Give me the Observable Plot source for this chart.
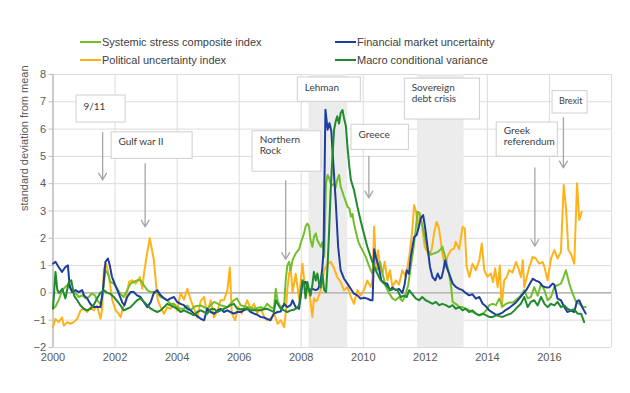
<!DOCTYPE html>
<html><head><meta charset="utf-8">
<script src="https://cdn.jsdelivr.net/npm/d3@7"></script>
<script src="https://cdn.jsdelivr.net/npm/@observablehq/plot@0.6"></script>
<style>
body{margin:0;background:#fff}
#wrap{position:relative;width:630px;height:393px;overflow:hidden}
.leg{position:absolute;font:11px "Liberation Sans",Arial,sans-serif;color:#404040;display:flex;align-items:center;white-space:nowrap;height:14px}
.sw{display:inline-block;width:21px;height:2px;margin-right:1px}
</style></head>
<body><div id="wrap"></div>
<script>
// ---- data (decimal year, standard deviations from mean) ----
const systemicStress = [
[2000.00,-0.58],[2000.08,-0.5],[2000.18,-0.27],[2000.30,0.1],[2000.40,0.22],[2000.51,0.34],[2000.62,0.05],[2000.72,0.0],[2000.83,-0.15],[2000.94,-0.09],
[2001.05,-0.2],[2001.15,-0.15],[2001.25,-0.03],[2001.35,-0.09],[2001.42,-0.27],[2001.52,-0.4],[2001.58,-0.2],[2001.69,0.83],[2001.77,0.7],[2001.85,0.4],[2001.96,0.34],
[2002.07,0.15],[2002.17,-0.03],[2002.28,-0.15],[2002.39,0.1],[2002.50,0.34],[2002.60,0.4],[2002.71,0.46],[2002.82,0.46],[2002.93,0.28],
[2003.04,0.1],[2003.15,0.03],[2003.25,0.03],[2003.36,0.0],[2003.47,-0.15],[2003.58,-0.2],[2003.68,-0.27],[2003.79,-0.4],[2003.90,-0.4],
[2004.00,-0.52],[2004.11,-0.58],[2004.22,-0.58],[2004.33,-0.46],[2004.44,-0.64],[2004.55,-0.5],[2004.76,-0.46],[2004.97,-0.58],
[2005.19,-0.33],[2005.40,-0.45],[2005.62,-0.52],[2005.83,-0.27],[2005.93,-0.2],[2006.05,-0.45],[2006.26,-0.52],[2006.48,-0.58],[2006.69,-0.52],[2006.80,-0.58],[2006.90,-0.4],
[2007.01,-0.52],[2007.12,-0.58],[2007.18,0.15],[2007.24,-0.3],[2007.34,-0.52],[2007.45,-0.46],[2007.50,0.46],[2007.55,1.0],[2007.61,1.14],[2007.66,0.83],[2007.72,1.2],[2007.82,1.44],[2007.93,1.6],[2007.98,1.81],
[2008.09,2.18],[2008.14,2.42],[2008.20,2.54],[2008.25,2.45],[2008.30,1.93],[2008.36,1.69],[2008.41,2.05],[2008.47,2.18],[2008.52,1.93],[2008.58,1.8],[2008.63,1.69],[2008.68,1.85],[2008.74,1.32],[2008.80,4.01],[2008.85,4.32],[2008.90,4.2],[2008.95,4.01],
[2009.00,3.95],[2009.06,4.0],[2009.11,3.85],[2009.16,4.14],[2009.22,4.32],[2009.27,3.9],[2009.38,3.52],[2009.49,3.16],[2009.55,3.1],[2009.60,2.79],[2009.65,2.9],[2009.70,2.54],[2009.80,2.05],[2009.86,1.81],[2009.97,1.57],
[2010.08,1.32],[2010.18,1.0],[2010.29,0.71],[2010.37,0.95],[2010.45,0.85],[2010.54,1.14],[2010.62,0.71],[2010.73,0.22],[2010.83,0.0],[2010.94,-0.2],
[2011.04,-0.27],[2011.15,-0.15],[2011.26,-0.3],[2011.35,-0.1],[2011.45,0.3],[2011.53,0.95],[2011.64,1.8],[2011.75,2.97],[2011.80,2.95],[2011.88,2.6],[2011.98,2.05],
[2012.07,1.57],[2012.18,1.4],[2012.28,1.45],[2012.40,1.5],[2012.50,1.6],[2012.55,1.69],[2012.64,1.32],[2012.74,0.83],[2012.82,0.34],[2012.88,-0.33],[2012.98,-0.4],
[2013.10,-0.52],[2013.20,-0.52],[2013.30,-0.58],[2013.41,-0.64],[2013.52,-0.7],[2013.63,-0.76],[2013.74,-0.82],[2013.85,-0.78],[2013.96,-0.64],
[2014.06,-0.45],[2014.17,-0.4],[2014.28,-0.45],[2014.38,-0.21],[2014.49,-0.5],[2014.60,-0.4],[2014.71,-0.35],[2014.82,-0.35],[2014.97,-0.21],
[2015.08,-0.09],[2015.19,0.1],[2015.30,-0.2],[2015.40,-0.15],[2015.51,0.21],[2015.62,-0.1],[2015.73,0.34],[2015.84,0.1],[2015.94,-0.27],
[2016.05,-0.15],[2016.16,0.22],[2016.26,0.28],[2016.37,0.34],[2016.46,0.6],[2016.53,0.83],[2016.64,0.34],[2016.75,-0.03],[2016.86,-0.34],[2016.96,-0.4],
[2017.07,-0.52],[2017.17,-0.52]
];
const financialUncertainty = [
[2000.00,1.07],[2000.08,1.14],[2000.18,0.95],[2000.29,0.77],[2000.40,0.95],[2000.48,1.01],[2000.54,0.22],[2000.62,0.03],[2000.73,0.1],[2000.83,0.03],[2000.94,0.1],
[2001.00,-0.09],[2001.10,-0.2],[2001.20,-0.4],[2001.31,-0.52],[2001.42,-0.52],[2001.53,-0.52],[2001.61,0.1],[2001.69,1.14],[2001.77,1.26],[2001.83,1.01],[2001.90,0.59],
[2002.01,0.28],[2002.12,-0.03],[2002.23,-0.34],[2002.30,-0.46],[2002.39,-0.15],[2002.50,0.03],[2002.60,0.03],[2002.71,-0.09],[2002.82,-0.15],[2002.93,-0.34],
[2003.04,-0.52],[2003.15,-0.34],[2003.25,0.0],[2003.36,0.1],[2003.47,-0.09],[2003.58,-0.2],[2003.68,-0.27],[2003.79,-0.2],[2003.90,-0.15],
[2004.00,-0.33],[2004.11,-0.4],[2004.22,-0.45],[2004.33,-0.58],[2004.44,-0.64],[2004.55,-0.77],[2004.65,-0.85],[2004.76,-0.95],[2004.87,-1.0],[2004.97,-0.58],
[2005.08,-0.7],[2005.19,-0.76],[2005.30,-0.65],[2005.40,-0.58],[2005.51,-0.7],[2005.62,-0.64],[2005.72,-0.7],[2005.83,-0.76],[2005.94,-0.7],
[2006.05,-0.7],[2006.15,-0.64],[2006.26,-0.58],[2006.37,-0.7],[2006.48,-0.76],[2006.58,-0.8],[2006.69,-0.88],[2006.80,-0.9],[2006.90,-0.95],
[2007.01,-1.0],[2007.12,-0.76],[2007.24,-0.7],[2007.34,-0.68],[2007.45,-0.4],[2007.55,-0.52],[2007.66,-0.45],[2007.72,-0.27],[2007.82,-0.52],[2007.93,-0.58],
[2008.04,0.34],[2008.14,0.4],[2008.25,0.1],[2008.36,0.15],[2008.47,0.1],[2008.55,0.15],[2008.63,0.46],[2008.68,0.9],[2008.72,1.57],[2008.78,6.71],[2008.85,5.98],[2008.91,6.22],[2008.97,5.92],
[2009.04,4.63],[2009.11,3.4],[2009.19,1.69],[2009.27,0.83],[2009.38,0.52],[2009.49,0.34],[2009.59,0.16],[2009.70,-0.03],[2009.81,-0.09],[2009.91,-0.21],
[2010.02,-0.18],[2010.13,-0.21],[2010.24,-0.27],[2010.30,-0.27],[2010.35,1.6],[2010.41,1.3],[2010.50,0.95],[2010.58,0.46],[2010.68,0.35],[2010.77,0.34],[2010.86,0.1],[2010.94,0.2],
[2011.05,0.1],[2011.15,0.15],[2011.26,0.0],[2011.33,0.3],[2011.40,0.83],[2011.47,0.7],[2011.53,1.32],[2011.64,2.05],[2011.72,2.12],[2011.79,2.42],[2011.85,2.73],[2011.93,2.85],[2011.99,2.42],
[2012.07,1.69],[2012.15,0.95],[2012.23,0.58],[2012.32,0.46],[2012.40,0.71],[2012.47,0.52],[2012.52,0.55],[2012.58,0.83],[2012.64,1.2],[2012.70,0.9],[2012.77,0.7],[2012.88,0.35],[2012.98,0.22],
[2013.09,0.15],[2013.20,0.1],[2013.30,0.0],[2013.41,-0.09],[2013.52,-0.05],[2013.63,-0.21],[2013.74,-0.15],[2013.85,-0.4],[2013.96,-0.5],
[2014.06,-0.64],[2014.17,-0.72],[2014.28,-0.8],[2014.38,-0.78],[2014.49,-0.72],[2014.60,-0.62],[2014.70,-0.55],[2014.81,-0.45],[2014.92,-0.35],
[2015.03,-0.2],[2015.14,-0.05],[2015.25,0.1],[2015.35,0.3],[2015.46,0.52],[2015.56,0.45],[2015.67,0.4],[2015.78,0.25],[2015.89,0.2],
[2016.00,0.21],[2016.10,0.34],[2016.16,0.3],[2016.26,-0.21],[2016.37,-0.27],[2016.48,-0.52],[2016.58,-0.7],[2016.69,-0.65],[2016.80,-0.7],[2016.89,-0.3],[2016.96,-0.27],
[2017.07,-0.55],[2017.17,-0.76]
];
const politicalUncertainty = [
[2000.00,-1.25],[2000.08,-0.95],[2000.18,-1.07],[2000.29,-0.9],[2000.35,-1.2],[2000.46,-1.07],[2000.56,-1.13],[2000.67,-1.07],[2000.78,-0.95],[2000.89,-0.64],[2000.99,-0.58],
[2001.10,-0.7],[2001.21,-0.52],[2001.31,-0.64],[2001.42,-0.46],[2001.53,-0.95],[2001.58,-0.64],[2001.64,0.89],[2001.71,1.07],[2001.80,0.64],[2001.91,-0.27],
[2002.02,-0.64],[2002.12,-0.77],[2002.18,-0.89],[2002.26,-0.52],[2002.34,-0.33],[2002.45,0.4],[2002.55,0.46],[2002.66,0.34],[2002.74,0.46],[2002.80,0.58],[2002.88,0.15],[2002.93,0.7],
[2003.04,1.5],[2003.12,2.0],[2003.25,1.2],[2003.34,0.1],[2003.38,-0.27],[2003.47,-0.52],[2003.58,-0.77],[2003.68,-0.52],[2003.79,-0.58],[2003.90,-0.4],
[2004.00,-0.64],[2004.11,0.0],[2004.22,-0.25],[2004.33,0.15],[2004.44,-0.27],[2004.54,-0.55],[2004.65,-0.9],[2004.76,-0.3],[2004.87,-0.15],[2004.97,-0.76],
[2005.08,-0.27],[2005.19,-0.9],[2005.30,-0.64],[2005.40,-0.27],[2005.51,-0.27],[2005.62,0.1],[2005.70,0.93],[2005.76,-0.76],[2005.87,-1.0],[2005.97,-0.52],
[2006.08,-0.76],[2006.26,-0.27],[2006.37,-0.58],[2006.48,-0.4],[2006.58,-0.76],[2006.69,-0.52],[2006.80,-0.88],[2006.90,-1.0],
[2007.01,-0.95],[2007.12,-0.76],[2007.24,-1.13],[2007.34,-1.0],[2007.45,-1.25],[2007.50,-0.76],[2007.55,0.1],[2007.61,0.7],[2007.66,0.95],[2007.72,0.0],[2007.82,0.7],[2007.93,-0.2],
[2008.04,1.07],[2008.14,0.0],[2008.25,0.1],[2008.36,-0.88],[2008.41,-0.2],[2008.47,-0.3],[2008.52,-0.27],[2008.63,0.1],[2008.74,0.83],[2008.85,1.07],[2008.95,1.14],
[2009.06,0.9],[2009.16,0.58],[2009.27,0.4],[2009.38,0.1],[2009.49,0.22],[2009.60,-0.15],[2009.70,-0.4],[2009.81,0.1],[2009.91,-0.1],
[2010.02,0.1],[2010.13,0.45],[2010.24,0.22],[2010.30,0.5],[2010.35,2.42],[2010.41,0.95],[2010.48,1.56],[2010.55,0.83],[2010.62,0.71],[2010.69,1.14],[2010.78,0.46],[2010.86,0.83],[2010.94,0.22],
[2011.05,0.46],[2011.15,0.3],[2011.26,0.83],[2011.37,0.6],[2011.48,1.32],[2011.57,2.18],[2011.64,3.22],[2011.70,2.97],[2011.77,2.3],[2011.82,2.91],[2011.90,2.42],[2011.98,1.69],
[2012.12,1.38],[2012.20,1.57],[2012.29,2.24],[2012.36,2.6],[2012.44,2.36],[2012.55,1.44],[2012.64,0.95],[2012.71,1.32],[2012.82,1.57],[2012.93,1.63],[2012.98,1.87],
[2013.09,1.6],[2013.20,2.42],[2013.27,2.36],[2013.33,0.95],[2013.42,0.58],[2013.52,1.07],[2013.63,0.83],[2013.74,1.2],[2013.82,1.81],[2013.90,0.83],
[2014.00,0.6],[2014.11,0.71],[2014.18,0.4],[2014.25,0.9],[2014.33,0.21],[2014.40,1.0],[2014.46,-0.52],[2014.54,0.46],[2014.62,0.58],[2014.70,0.83],[2014.81,0.75],[2014.92,1.13],
[2015.00,0.9],[2015.08,0.58],[2015.14,1.2],[2015.19,0.21],[2015.27,0.58],[2015.35,0.95],[2015.46,1.32],[2015.56,1.26],[2015.67,1.07],[2015.78,1.13],[2015.84,0.95],[2015.94,0.46],
[2016.05,1.26],[2016.16,1.57],[2016.26,1.26],[2016.37,1.5],[2016.46,3.95],[2016.53,3.16],[2016.61,1.57],[2016.69,1.44],[2016.80,1.07],[2016.89,4.02],[2016.96,2.67],[2017.04,2.97]
];
const macroVariance = [
[2000.00,-0.58],[2000.08,0.77],[2000.14,0.1],[2000.20,0.0],[2000.30,0.15],[2000.40,-0.2],[2000.51,0.4],[2000.59,0.46],[2000.68,-0.1],[2000.78,-0.27],[2000.88,-0.45],[2000.99,-0.58],
[2001.10,-0.64],[2001.21,-0.58],[2001.31,-0.45],[2001.42,-0.2],[2001.53,0.0],[2001.64,0.1],[2001.75,0.0],[2001.85,-0.03],[2001.96,-0.15],
[2002.07,-0.3],[2002.17,-0.45],[2002.28,-0.64],[2002.39,-0.58],[2002.50,-0.52],[2002.60,-0.4],[2002.71,-0.27],[2002.82,-0.2],[2002.93,-0.33],
[2003.04,-0.45],[2003.15,-0.58],[2003.25,-0.64],[2003.36,-0.7],[2003.47,-0.64],[2003.58,-0.52],[2003.68,-0.4],[2003.79,-0.46],[2003.90,-0.52],
[2004.00,-0.58],[2004.11,-0.7],[2004.22,-0.64],[2004.33,-0.7],[2004.44,-0.76],[2004.54,-0.82],[2004.65,-0.7],[2004.76,-0.64],[2004.87,-0.7],[2004.97,-0.76],
[2005.08,-0.6],[2005.19,-0.58],[2005.30,-0.7],[2005.40,-0.64],[2005.51,-0.58],[2005.62,-0.52],[2005.72,-0.45],[2005.83,-0.4],[2005.94,-0.58],
[2006.05,-0.6],[2006.15,-0.58],[2006.26,-0.58],[2006.37,-0.64],[2006.48,-0.64],[2006.58,-0.64],[2006.69,-0.64],[2006.80,-0.6],[2006.90,-0.58],
[2007.01,-0.64],[2007.12,-0.7],[2007.18,-0.27],[2007.24,-0.4],[2007.34,-0.58],[2007.45,-0.64],[2007.55,-0.7],[2007.66,-0.64],[2007.76,-0.62],[2007.87,-0.55],[2007.93,-0.45],[2007.98,0.0],
[2008.04,0.46],[2008.09,0.34],[2008.14,-0.2],[2008.20,0.4],[2008.25,0.1],[2008.30,-0.1],[2008.36,0.3],[2008.41,0.77],[2008.47,0.45],[2008.52,0.71],[2008.58,0.3],[2008.63,0.2],[2008.68,0.71],[2008.74,0.1],[2008.80,0.03],[2008.85,1.0],[2008.90,2.3],[2008.95,3.77],
[2009.00,4.87],[2009.06,5.98],[2009.11,6.28],[2009.16,6.47],[2009.22,6.2],[2009.27,6.59],[2009.33,6.7],[2009.38,6.4],[2009.44,6.1],[2009.49,5.36],[2009.55,4.63],[2009.60,4.14],[2009.70,3.77],[2009.81,3.16],[2009.91,2.67],
[2010.02,2.18],[2010.13,1.69],[2010.24,1.32],[2010.35,0.95],[2010.45,0.71],[2010.56,0.46],[2010.67,0.34],[2010.78,0.22],[2010.89,0.1],[2010.99,0.15],
[2011.10,0.1],[2011.21,-0.15],[2011.31,-0.1],[2011.40,-0.15],[2011.48,0.1],[2011.58,-0.05],[2011.69,-0.2],[2011.80,-0.27],[2011.90,-0.15],
[2012.01,-0.27],[2012.12,-0.33],[2012.23,-0.4],[2012.34,-0.33],[2012.45,-0.45],[2012.55,-0.4],[2012.66,-0.45],[2012.77,-0.52],[2012.88,-0.45],[2012.98,-0.58],
[2013.09,-0.52],[2013.20,-0.64],[2013.30,-0.58],[2013.41,-0.7],[2013.52,-0.64],[2013.63,-0.76],[2013.74,-0.82],[2013.85,-0.76],[2013.96,-0.82],
[2014.06,-0.88],[2014.17,-0.88],[2014.28,-0.82],[2014.38,-0.85],[2014.49,-0.88],[2014.60,-0.82],[2014.76,-0.76],[2014.87,-0.64],[2014.97,-0.52],
[2015.08,-0.4],[2015.19,-0.15],[2015.30,-0.52],[2015.40,-0.33],[2015.51,-0.27],[2015.62,-0.46],[2015.73,-0.15],[2015.84,-0.4],[2015.94,-0.52],
[2016.05,-0.4],[2016.16,-0.46],[2016.26,-0.33],[2016.37,-0.52],[2016.48,-0.46],[2016.58,-0.58],[2016.69,-0.64],[2016.80,-0.6],[2016.91,-0.76],
[2017.02,-0.76],[2017.12,-1.07]
];
const seriesNames = ["Systemic stress composite index","Financial market uncertainty","Political uncertainty index","Macro conditional variance"];
const seriesColors = ["#72bf2c","#1f3d9c","#ffb21a","#218a2e"];
const xTicks = [2000,2002,2004,2006,2008,2010,2012,2014,2016];
const xGrid = [2000,2002,2004,2006,2008,2010,2012,2014,2016,2018];
const yTicks = [-2,-1,0,1,2,3,4,5,6,7,8];
const crisisBands = [
  {start: 2008.25, end: 2009.5},
  {start: 2011.75, end: 2013.25}
];
const eventBoxes = [
  {label:"9/11", x1:2000.76, x2:2002.34, y1:6.24, y2:7.23, tx:2000.98, ty:7.0, size:10},
  {label:"Gulf war II", x1:2001.89, x2:2004.5, y1:4.91, y2:5.88, tx:2002.11, ty:5.72, size:10},
  {label:"Northern\nRock", x1:2006.43, x2:2008.65, y1:4.44, y2:5.92, tx:2006.66, ty:5.79, size:10},
  {label:"Lehman", x1:2007.89, x2:2009.92, y1:7.0, y2:7.89, tx:2008.11, ty:7.7, size:10},
  {label:"Greece", x1:2009.62, x2:2011.47, y1:5.24, y2:6.16, tx:2009.85, ty:5.98, size:10},
  {label:"Sovereign\ndebt crisis", x1:2011.34, x2:2013.76, y1:6.35, y2:7.85, tx:2011.56, ty:7.7, size:10},
  {label:"Greek\nreferendum", x1:2014.3, x2:2016.27, y1:4.99, y2:6.24, tx:2014.53, ty:6.13, size:10},
  {label:"Brexit", x1:2016.1, x2:2017.23, y1:6.57, y2:7.39, tx:2016.31, ty:7.2, size:9}
];
const eventArrows = [
  {x:2001.6, y1:5.87, y2:4.14},
  {x:2002.97, y1:4.73, y2:2.42},
  {x:2007.5, y1:4.11, y2:1.23},
  {x:2010.18, y1:5.0, y2:3.48},
  {x:2015.53, y1:4.58, y2:1.71},
  {x:2016.45, y1:6.42, y2:4.58}
];
const yLabel = "standard deviation from mean";

const drawOrder = [
  [politicalUncertainty, 2],
  [systemicStress, 0],
  [financialUncertainty, 1],
  [macroVariance, 3]
];

const chart = Plot.plot({
  width: 630, height: 393,
  marginLeft: 52.5, marginRight: 19, marginTop: 74, marginBottom: 46,
  style: {fontFamily: "'Liberation Sans', Arial, sans-serif", fontSize: "11px", color: "#595959", background: "#fff"},
  x: {domain: [2000, 2018]},
  y: {domain: [-2, 8]},
  marks: [
    Plot.gridX(xGrid, {stroke: "#dcdcdc", strokeOpacity: 1}),
    Plot.gridY(yTicks, {stroke: "#dcdcdc", strokeOpacity: 1}),
    Plot.rect(crisisBands, {x1: "start", x2: "end", y1: -2, y2: 8, fill: "#ececec"}),
    Plot.ruleY([0], {stroke: "#a9a9a9", strokeWidth: 1.2}),
    Plot.ruleX([2000], {stroke: "#a9a9a9"}),
    Plot.axisY({ticks: yTicks, tickSize: 4, tickPadding: 3, stroke: "#bdbdbd", label: null}),
    Plot.axisX({ticks: xTicks, tickSize: 0, tickPadding: 6, tickFormat: d => String(d), label: null}),
    Plot.text([yLabel], {frameAnchor: "left", rotate: -90, dx: -29, fill: "#595959", fontSize: 11}),
    ...drawOrder.map(([data, i]) => Plot.line(data, {x: d => d[0], y: d => d[1], stroke: seriesColors[i], strokeWidth: 2, strokeLinejoin: "round"})),
    Plot.rect(eventBoxes, {x1: "x1", x2: "x2", y1: "y1", y2: "y2", fill: "#fff", stroke: "#cfcfcf", strokeWidth: 1}),
    Plot.text(eventBoxes, {x: "tx", y: "ty", text: "label", textAnchor: "start", lineAnchor: "top", lineHeight: 1.15, fill: "#404040", fontFamily: "Lato, 'Open Sans', sans-serif", fontSize: d => d.size}),
    Plot.arrow(eventArrows, {x1: "x", x2: "x", y1: "y1", y2: "y2", stroke: "#a6a6a6", strokeWidth: 1.3, headLength: 9})
  ]
});
const wrap = document.getElementById("wrap");
wrap.appendChild(chart);

const legendPos = [[80, 35], [335, 35], [80, 53], [335, 53]];
const legendOrder = [0, 1, 2, 3];
legendOrder.forEach((i, k) => {
  const d = document.createElement("div");
  d.className = "leg";
  d.style.left = legendPos[k][0] + "px";
  d.style.top = legendPos[k][1] + "px";
  const s = document.createElement("span");
  s.className = "sw";
  s.style.background = seriesColors[i];
  d.appendChild(s);
  d.appendChild(document.createTextNode(seriesNames[i]));
  wrap.appendChild(d);
});
</script>
</body></html>
